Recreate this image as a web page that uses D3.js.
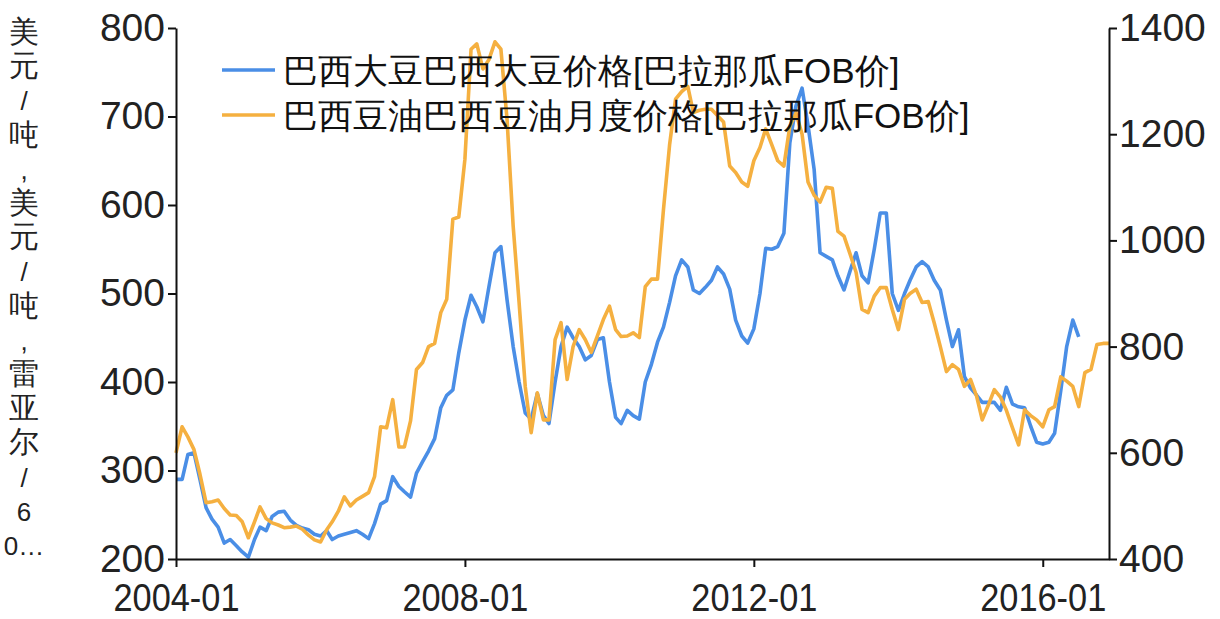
<!DOCTYPE html>
<html>
<head>
<meta charset="utf-8">
<script src="https://cdn.jsdelivr.net/npm/d3@7"></script>
<style>
  body { margin: 0; background: #fff; }
  text { font-family: "Liberation Sans", Arial, sans-serif; }
</style>
</head>
<body>
<div id="chart"></div>
<script>
const svgWidth = 1220
const svgHeight = 619

const margin = { top: 28, right: 111, bottom: 60, left: 176 }

// monthly values, first month 2004-01
const startMonth = "2004-01"
const endMonth = "2016-12"

// 巴西大豆 (left axis, 美元/吨), 2004-01 .. 2016-07
const soybean = [
  290, 290, 318, 320, 290, 258, 245, 236, 218, 222, 215, 208,
  202, 222, 236, 232, 248, 253, 254, 244, 238, 235, 233, 228,
  226, 232, 222, 226, 228, 230, 232, 228, 223, 240, 262, 266,
  293, 282, 276, 270, 297, 310, 322, 336, 371, 385, 391, 433,
  470, 498, 485, 468, 507, 546, 553, 493, 440, 400, 365, 358,
  387, 362, 353, 400, 440, 462, 450, 440, 425, 430, 448, 450,
  400, 360, 353, 368, 362, 358, 400, 420, 445, 462, 490, 520,
  538, 530, 504, 500, 507, 515, 530, 522, 505, 470, 452, 444,
  460, 500, 551, 550, 553, 568, 670, 712, 732, 690, 640, 546,
  542, 538, 520, 504, 525, 546, 520, 512, 550, 591, 591, 500,
  481, 500, 515, 530, 536, 530, 515, 504, 470, 440, 459, 406,
  393, 385, 377, 377, 377, 368, 394, 375, 372, 371, 350, 332,
  330, 332, 342, 390, 440, 470, 451
]

// 巴西豆油 (right axis), 2004-01 .. 2016-12
const soyOil = [
  600, 649, 630, 606, 560, 506, 508, 511, 495, 483, 482, 470,
  440, 470, 498, 476, 468, 464, 459, 460, 462, 456, 445, 436,
  432, 455, 470, 490, 517, 500, 511, 518, 525, 555, 649, 647,
  700, 611, 611, 660, 757, 770, 800, 806, 864, 889, 1040, 1044,
  1153, 1360, 1370, 1323, 1340, 1374, 1360, 1228, 1027, 883, 725, 638,
  713, 662, 662, 813, 845, 738, 800, 832, 813, 789, 820, 851,
  876, 832, 819, 820, 826, 817, 913, 927, 927, 1058, 1180, 1266,
  1280, 1290, 1241, 1245, 1247, 1247, 1235, 1223, 1140, 1128, 1110, 1102,
  1150, 1175, 1210, 1180, 1150, 1140, 1215, 1240, 1200, 1110, 1085, 1072,
  1100, 1098, 1017, 1008, 975, 940, 870, 864, 895, 911, 911, 870,
  832, 889, 900, 908, 883, 885, 845, 800, 753, 766, 757, 725,
  738, 706, 662, 690, 719, 705, 680, 647, 615, 681, 670, 662,
  649, 681, 687, 743, 735, 725, 687, 751, 757, 804, 806, 806
]

const leftTicks = [200, 300, 400, 500, 600, 700, 800]
const rightTicks = [400, 600, 800, 1000, 1200, 1400]
const xTickLabels = ["2004-01", "2008-01", "2012-01", "2016-01"]

const seriesNames = [
  "巴西大豆巴西大豆价格[巴拉那瓜FOB价]",
  "巴西豆油巴西豆油月度价格[巴拉那瓜FOB价]"
]
const seriesColors = ["#4a8ee6", "#f5b040"]

const yTitle = ["美", "元", "/", "吨", ",", "美", "元", "/", "吨", ",", "雷", "亚", "尔", "/", "6", "0…"]

const parseMonth = d3.timeParse("%Y-%m")
const start = parseMonth(startMonth)
const monthAt = i => d3.timeMonth.offset(start, i)

const svg = d3.select("#chart").append("svg")
    .attr("width", svgWidth)
    .attr("height", svgHeight)

const x = d3.scaleTime()
    .domain([start, parseMonth(endMonth)])
    .range([margin.left, svgWidth - margin.right])

const yLeft = d3.scaleLinear()
    .domain([200, 800])
    .range([svgHeight - margin.bottom, margin.top])

const yRight = d3.scaleLinear()
    .domain([400, 1400])
    .range([svgHeight - margin.bottom, margin.top])

const styleAxis = (g, size) => {
    g.select(".domain").attr("stroke", "#111").attr("stroke-width", 2)
    g.selectAll(".tick line").attr("stroke", "#111").attr("stroke-width", 2)
    g.selectAll(".tick text").attr("fill", "#222").attr("font-size", size)
        .attr("font-family", "\"Liberation Sans\", Arial, sans-serif")
}

// lines
const lineLeft = d3.line()
    .x((d, i) => x(monthAt(i)))
    .y(d => yLeft(d))

const lineRight = d3.line()
    .x((d, i) => x(monthAt(i)))
    .y(d => yRight(d))

svg.append("path")
    .datum(soybean)
    .attr("fill", "none")
    .attr("stroke", seriesColors[0])
    .attr("stroke-width", 3.6)
    .attr("stroke-linejoin", "round")
    .attr("d", lineLeft)

svg.append("path")
    .datum(soyOil)
    .attr("fill", "none")
    .attr("stroke", seriesColors[1])
    .attr("stroke-width", 3.6)
    .attr("stroke-linejoin", "round")
    .attr("d", lineRight)

// axes
const leftG = svg.append("g")
    .attr("transform", `translate(${margin.left},0)`)
    .call(d3.axisLeft(yLeft).tickValues(leftTicks).tickSize(8).tickSizeOuter(0).tickPadding(3))
leftG.call(styleAxis, 39)

const rightG = svg.append("g")
    .attr("transform", `translate(${svgWidth - margin.right},0)`)
    .call(d3.axisRight(yRight).tickValues(rightTicks).tickFormat(d3.format("d"))
        .tickSize(8).tickSizeOuter(0).tickPadding(2))
rightG.call(styleAxis, 39)

const bottomG = svg.append("g")
    .attr("transform", `translate(0,${svgHeight - margin.bottom})`)
    .call(d3.axisBottom(x)
        .tickValues(xTickLabels.map(parseMonth))
        .tickFormat(d3.timeFormat("%Y-%m"))
        .tickSize(8).tickSizeOuter(0).tickPadding(17))
bottomG.call(styleAxis, 38)
bottomG.selectAll(".tick text")
    .attr("textLength", 126)
    .attr("lengthAdjust", "spacingAndGlyphs")

// left title, one upright character per row
svg.append("g")
    .selectAll("text")
    .data(yTitle)
    .join("text")
    .attr("x", 24)
    .attr("y", (d, i) => 42 + i * 34.2)
    .attr("text-anchor", "middle")
    .attr("fill", "#222")
    .attr("font-size", d => /[0-9\/,…]/.test(d) ? 26 : 30)
    .attr("font-family", "\"Noto Sans CJK SC\", sans-serif")
    .text(d => d)

// legend
const legend = svg.append("g")
    .attr("transform", "translate(222,70)")

const legendItems = legend.selectAll("g")
    .data(seriesNames)
    .join("g")
    .attr("transform", (d, i) => `translate(0,${i * 45})`)

legendItems.append("line")
    .attr("x1", 0).attr("x2", 53)
    .attr("stroke", (d, i) => seriesColors[i])
    .attr("stroke-width", 3.6)

legendItems.append("text")
    .attr("x", 61)
    .attr("dy", "0.36em")
    .attr("fill", "#111")
    .attr("font-size", 35)
    .attr("font-family", "\"Noto Sans CJK SC\", sans-serif")
    .text(d => d)
</script>
</body>
</html>
